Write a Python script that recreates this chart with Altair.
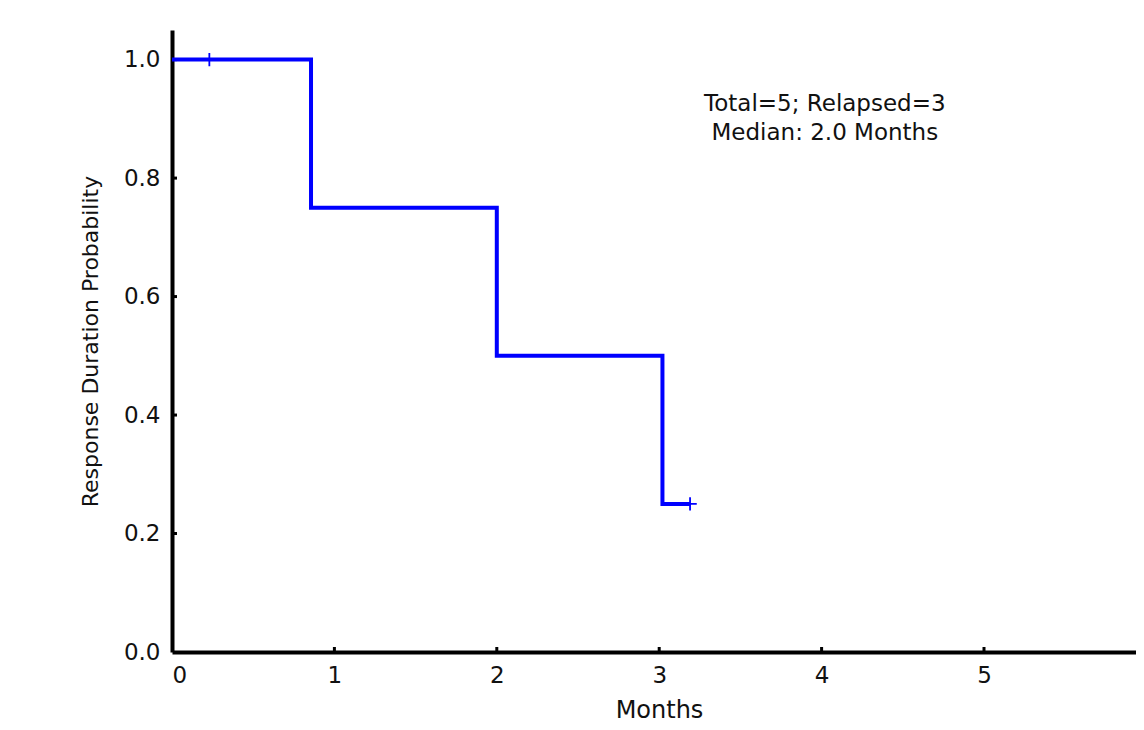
import altair as alt
import pandas as pd

# Kaplan-Meier step data
times = [0.0, 0.856, 2.0, 3.02, 3.19]
surv = [1.0, 0.75, 0.5, 0.25, 0.25]
censor_t = [0.23, 3.19]
censor_s = [1.0, 0.25]
x_ticks = [1, 2, 3, 4, 5, 6]
y_ticks = [0.2, 0.4, 0.6, 0.8, 1.0]
x_labels = [0, 1, 2, 3, 4, 5, 6]
y_labels = [0, 0.2, 0.4, 0.6, 0.8, 1.0]
note_lines = ["Total=5; Relapsed=3", "Median: 2.0 Months"]
note_x = [4.02, 4.02]
note_y = [0.925, 0.876]

UNIT = 162.4          # pixels per month in the reference
W = 964               # visible plot width (page is 1144 wide)
H = 622
X_MAX = W / UNIT
FONT = "DejaVu Sans"

step_df = pd.DataFrame({"t": times, "s": surv})
cens_df = pd.DataFrame({"t": censor_t, "s": censor_s})
note_df = pd.DataFrame({"txt": note_lines, "x": note_x, "y": note_y})
xt_df = pd.DataFrame({"t": x_ticks})
yt_df = pd.DataFrame({"s": y_ticks})

xscale = alt.Scale(domain=[0, X_MAX], nice=False, zero=True)
yscale = alt.Scale(domain=[0, 1.05], nice=False)

xaxis = alt.Axis(values=x_labels, format="d", title="Months", grid=False,
                 domainColor="black", domainWidth=4, tickSize=0, labelPadding=12,
                 labelFontSize=23, labelFont=FONT, labelColor="#111",
                 titleFontSize=24, titleFont=FONT, titleFontWeight="normal",
                 titleColor="#111", titlePadding=11, titleX=487, titleAnchor="start",
                 titleAlign="center")
yaxis = alt.Axis(values=y_labels, format=".1f",
                 title="Response Duration Probability", grid=False,
                 domainColor="black", domainWidth=4, tickSize=0, labelPadding=12,
                 labelFontSize=23, labelFont=FONT, labelColor="#111",
                 titleFontSize=22, titleFont=FONT, titleFontWeight="normal",
                 titleColor="#111", titlePadding=21)

base_step = alt.Chart(step_df).mark_line(
    interpolate="step-after", color="#0000FF", strokeWidth=4
).encode(
    x=alt.X("t:Q", scale=xscale, axis=xaxis),
    y=alt.Y("s:Q", scale=yscale, axis=yaxis),
)

cens = alt.Chart(cens_df).mark_point(
    shape="M-1,0L1,0M0,-1L0,1", filled=False, color="#0000FF",
    strokeWidth=1.8, size=180, opacity=1
).encode(x=alt.X("t:Q", scale=xscale), y=alt.Y("s:Q", scale=yscale))

notes = alt.Chart(note_df).mark_text(
    font=FONT, fontSize=23, color="#111", align="center", baseline="middle"
).encode(x=alt.X("x:Q", scale=xscale), y=alt.Y("y:Q", scale=yscale), text="txt:N")

xt = alt.Chart(xt_df).transform_filter(f"datum.t <= {X_MAX}").mark_rule(
    color="black", strokeWidth=3).encode(
    x=alt.X("t:Q", scale=xscale), y=alt.value(H), y2=alt.value(H - 5))
yt = alt.Chart(yt_df).mark_rule(color="black", strokeWidth=3).encode(
    y=alt.Y("s:Q", scale=yscale), x=alt.value(0), x2=alt.value(5))

chart = alt.layer(xt, yt, base_step, cens, notes).properties(
    width=W, height=H,
    background="white",
    autosize=alt.AutoSizeParams(type="none"),
    padding={"left": 164, "top": 22, "right": 0, "bottom": 70},
).configure_view(stroke=None)

chart.save("out.html", embed_options={"renderer": "svg", "actions": False})
